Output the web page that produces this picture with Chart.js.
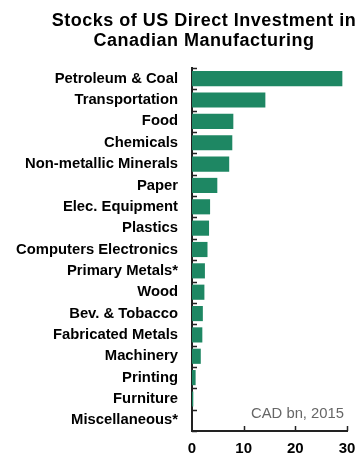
<!DOCTYPE html>
<html>
<head>
<meta charset="utf-8">
<script src="https://cdn.jsdelivr.net/npm/chart.js@4/dist/chart.umd.min.js"></script>
<style>
  html, body { margin: 0; padding: 0; background: #fff; }
  #wrap { position: relative; width: 360px; height: 456px; }
  #title {
    position: absolute; left: 48px; right: 0; top: 10px;
    text-align: center; font: bold 18px "Liberation Sans", Arial, sans-serif;
    letter-spacing: 0.5px; line-height: 20px; color: #000; white-space: nowrap;
  }
</style>
</head>
<body>
<div id="wrap">
  <canvas id="chart" width="360" height="456"></canvas>
  <div id="title">Stocks of US Direct Investment in<br>Canadian Manufacturing</div>
</div>
<script>
const categories = ['Petroleum & Coal', 'Transportation', 'Food', 'Chemicals', 'Non-metallic Minerals',
  'Paper', 'Elec. Equipment', 'Plastics', 'Computers Electronics', 'Primary Metals*', 'Wood',
  'Bev. & Tobacco', 'Fabricated Metals', 'Machinery', 'Printing', 'Furniture', 'Miscellaneous*'];
const values = [29.1, 14.2, 8.0, 7.8, 7.2, 4.9, 3.5, 3.3, 3.0, 2.5, 2.4, 2.1, 2.0, 1.7, 0.7, 0.25, 0];
const xTicks = [0, 10, 20, 30];
const note = 'CAD bn, 2015';

const FONT = '"Liberation Sans", Arial, sans-serif';

// inner tick marks + source note
const extras = {
  id: 'extras',
  afterDraw(chart) {
    const ctx = chart.ctx, area = chart.chartArea;
    const x = chart.scales.x, y = chart.scales.y;
    ctx.save();
    ctx.strokeStyle = '#222';
    ctx.lineWidth = 1.5;
    ctx.beginPath();
    for (let i = 0; i <= categories.length; i++) {
      const yy = Math.round(y.getPixelForValue(i - 0.5)) + 0.5;
      ctx.moveTo(area.left, yy);
      ctx.lineTo(area.left + 5, yy);
    }
    xTicks.slice(1).forEach(v => {
      const xx = Math.round(x.getPixelForValue(v)) + 0.5;
      ctx.moveTo(xx, area.bottom);
      ctx.lineTo(xx, area.bottom - 5);
    });
    ctx.stroke();
    ctx.fillStyle = '#666';
    ctx.font = '14.8px ' + FONT;
    ctx.textAlign = 'right';
    ctx.textBaseline = 'alphabetic';
    ctx.fillText(note, area.right - 3, area.bottom - 13);
    ctx.restore();
  }
};

new Chart(document.getElementById('chart'), {
  type: 'bar',
  data: {
    labels: categories,
    datasets: [{
      data: values,
      backgroundColor: '#1e8763',
      borderWidth: 0,
      categoryPercentage: 1,
      barPercentage: 0.71
    }]
  },
  options: {
    indexAxis: 'y',
    responsive: false,
    animation: false,
    layout: { padding: { top: 68, right: 13, bottom: 0, left: 0 } },
    plugins: { legend: { display: false }, tooltip: { enabled: false } },
    scales: {
      x: {
        min: 0, max: 30,
        afterBuildTicks: s => { s.ticks = xTicks.map(v => ({ value: v })); },
        afterFit: s => { s.height = 25; s.paddingLeft = 0; s.paddingRight = 0; },
        grid: { display: false, drawTicks: false },
        border: { color: '#222', width: 2 },
        ticks: { color: '#000', padding: 9, font: { family: FONT, size: 15, weight: 'bold' } }
      },
      y: {
        afterFit: s => { s.width = 192; },
        grid: { display: false, drawTicks: false },
        border: { color: '#222', width: 2 },
        ticks: { color: '#000', padding: 14, autoSkip: false, font: { family: FONT, size: 14.8, weight: 'bold' } }
      }
    }
  },
  plugins: [extras]
});
</script>
</body>
</html>
